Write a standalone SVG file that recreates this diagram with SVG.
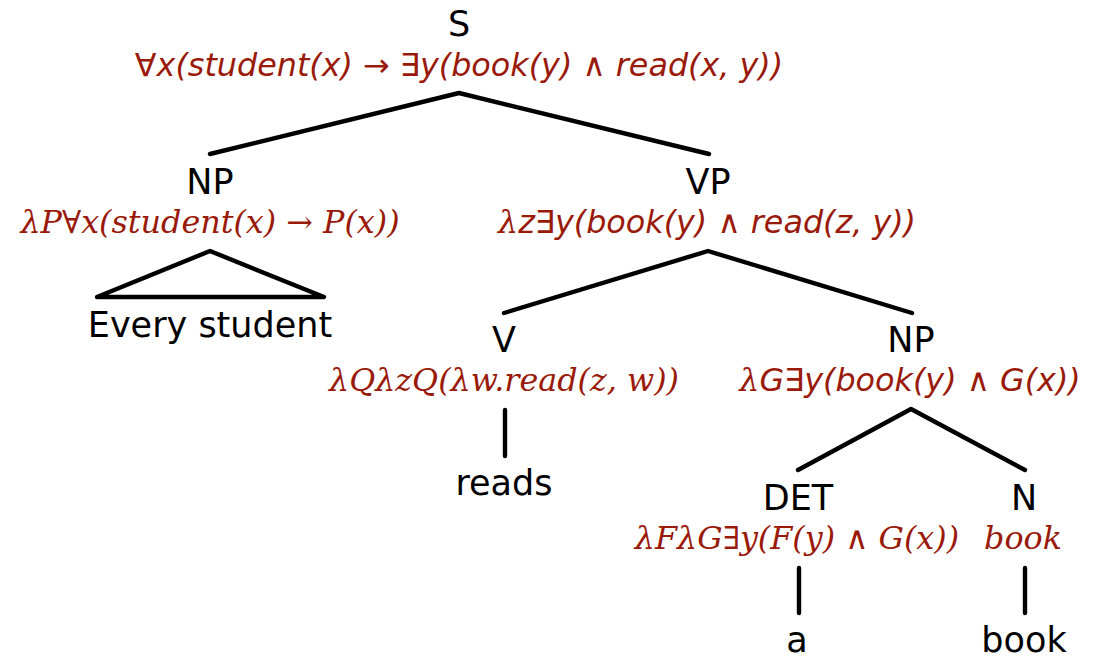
<svg xmlns="http://www.w3.org/2000/svg" width="1096" height="656" viewBox="0 0 1096 656">
<style>
.lbl{font-family:"DejaVu Sans",sans-serif;font-size:35px;fill:#000;text-anchor:middle}
.sem{font-size:31.8px;fill:#9a1a0a;text-anchor:middle;font-style:italic}
.ss{font-family:"DejaVu Sans",sans-serif}
.sf{font-family:"DejaVu Serif",serif}
.edge{stroke:#000;stroke-width:4.4;fill:none;stroke-linecap:round;stroke-linejoin:round}
</style>
<rect width="1096" height="656" fill="#fff"/>
<g id="connectors">
<path class="edge" d="M210,154 L459,93 L709,154"/>
<path class="edge" d="M97,297 L210,251 L324,297 Z"/>
<path class="edge" d="M504,313 L708,251 L912,313"/>
<path class="edge" d="M505,410 L505,456"/>
<path class="edge" d="M798,470 L911,409 L1025,470"/>
<path class="edge" d="M799,568 L799,613"/>
<path class="edge" d="M1025,568 L1025,613"/>
</g>
<g id="node-S">
<text class="lbl" x="459" y="36">S</text>
<text class="sem ss" x="459" y="76">∀x(student(x) → ∃y(book(y) ∧ read(x, y))</text>
</g>
<g id="node-NP1">
<text class="lbl" x="210" y="194">NP</text>
<text class="sem sf" x="210" y="233">λP∀x(student(x) → P(x))</text>
</g>
<g id="leaf-every-student">
<text class="lbl" x="210" y="337">Every student</text>
</g>
<g id="node-VP">
<text class="lbl" x="708" y="194">VP</text>
<text class="sem ss" x="707" y="233"><tspan class="sf">λ</tspan>z∃y(book(y) ∧ read(z, y))</text>
</g>
<g id="node-V">
<text class="lbl" x="504" y="352">V</text>
<text class="sem sf" x="504" y="391">λQλzQ(λw.read(z, w))</text>
</g>
<g id="leaf-reads">
<text class="lbl" x="504" y="495">reads</text>
</g>
<g id="node-NP2">
<text class="lbl" x="911" y="352">NP</text>
<text class="sem ss" x="910" y="391"><tspan class="sf">λ</tspan>G∃y(book(y) ∧ G(x))</text>
</g>
<g id="node-DET">
<text class="lbl" x="798" y="510">DET</text>
<text class="sem sf" x="797" y="549">λFλG∃y(F(y) ∧ G(x))</text>
</g>
<g id="leaf-a">
<text class="lbl" x="797" y="652">a</text>
</g>
<g id="node-N">
<text class="lbl" x="1024" y="510">N</text>
<text class="sem sf" x="1023" y="549">book</text>
</g>
<g id="leaf-book">
<text class="lbl" x="1024" y="652">book</text>
</g>
</svg>
